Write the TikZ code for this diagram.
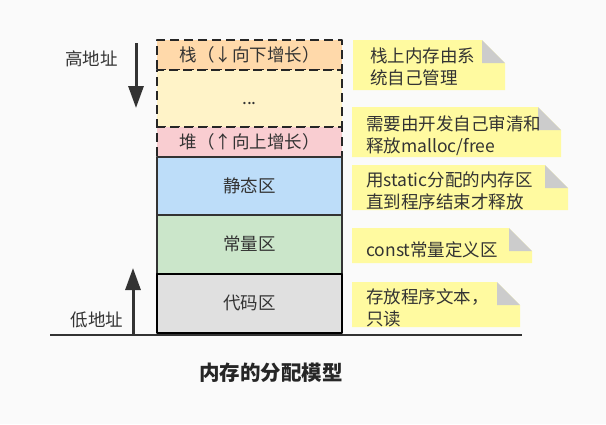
\documentclass[tikz,border=0pt]{standalone}
\usepackage{fontspec}
\setmainfont{Noto Sans CJK SC}
\usetikzlibrary{arrows.meta}
\definecolor{txtc}{HTML}{333333}
\definecolor{bgc}{HTML}{FAFAFA}
\definecolor{stackc}{HTML}{FFD9AA}
\definecolor{freec}{HTML}{FFF3C8}
\definecolor{heapc}{HTML}{F9CDD1}
\definecolor{staticc}{HTML}{BDDDF9}
\definecolor{constc}{HTML}{CBE6CA}
\definecolor{codec}{HTML}{E0E0E0}
\definecolor{notec}{HTML}{FFFAA0}
\definecolor{foldc}{HTML}{CCCCCC}
\begin{document}
\begin{tikzpicture}[x=1pt, y=-1pt, font=\fontsize{17.5}{22}\selectfont, text=txtc, line join=round,
		block/.style={minimum width=185pt, inner sep=0pt, text height=1.3em, text depth=0.1em},
		solidblock/.style={block, draw=txtc, line width=2pt},
		dashblock/.style={block, draw=black!85, line width=2.6pt, dash pattern=on 9pt off 5pt},
		codeblock/.style={block, draw=black, line width=2.6pt},
		notetext/.style={anchor=west, align=left, inner sep=0pt},
		addrarrow/.style={draw=txtc, line width=3pt, -{Triangle[length=22pt, width=15pt]}}]
			\fill[bgc] (0,0) rectangle (606,424);
			\useasboundingbox (0,0) rectangle (606,424);
			% notes
			\fill[notec] (353,40)--(482,40)--(505,63)--(505,90)--(353,90)--cycle;
			\fill[foldc] (482,40)--(482,63)--(505,63)--cycle;
			\fill[notec] (352,107)--(538,107)--(561,130)--(561,157)--(352,157)--cycle;
			\fill[foldc] (538,107)--(538,130)--(561,130)--cycle;
			\fill[notec] (352,165)--(545,165)--(568,188)--(568,210)--(352,210)--cycle;
			\fill[foldc] (545,165)--(545,188)--(568,188)--cycle;
			\fill[notec] (352,228)--(509,228)--(532,251)--(532,263)--(352,263)--cycle;
			\fill[foldc] (509,228)--(509,251)--(532,251)--cycle;
			\fill[notec] (352,282)--(497,282)--(520,305)--(520,327)--(352,327)--cycle;
			\fill[foldc] (497,282)--(497,305)--(520,305)--cycle;
			\node[notetext] (stacknote) at (370,67) {栈上内存由系\\统自己管理};
			\node[notetext] (heapnote) at (366,136) {需要由开发自己审清和\\释放malloc/free};
			\node[notetext] (staticnote) at (366,190.5) {用static分配的内存区\\直到程序结束才释放};
			\node[notetext] (constnote) at (366,250) {const常量定义区};
			\node[notetext] (codenote) at (366,307.5) {存放程序文本，\\只读};
			% memory blocks
			\node[dashblock, fill=stackc, minimum height=30pt] (stack) at (249.5,55) {栈（↓向下增长）};
			\node[dashblock, fill=freec, minimum height=57pt] (free) at (249.5,98.5) {...};
			\node[dashblock, fill=heapc, minimum height=30pt] (heap) at (249.5,142) {堆（↑向上增长）};
			\node[solidblock, fill=staticc, minimum height=58pt] (static) at (249.5,186) {静态区};
			\node[solidblock, fill=constc, minimum height=59pt] (const) at (249.5,244.5) {常量区};
			\node[codeblock, fill=codec, minimum height=59pt] (code) at (249.5,303.5) {代码区};
			% addresses
			\coordinate (G1) at (50,335);
			\coordinate (G2) at (522,335);
			\coordinate (H1) at (136,43);
			\coordinate (H2) at (136,108);
			\coordinate (L1) at (133,335);
			\coordinate (L2) at (133,268);
			\draw[addrarrow] (H1)--(H2);
			\draw[addrarrow] (L1)--(L2);
			\draw[draw=txtc, line width=2.5pt] (G1)--(G2);
			\node (high) at (91.5,59) {高地址};
			\node (low) at (97,320) {低地址};
			\node[font=\bfseries\fontsize{20.5}{24}\selectfont, text=black!85] (title) at (271,373) {内存的分配模型};
		\end{tikzpicture}
\end{document}
